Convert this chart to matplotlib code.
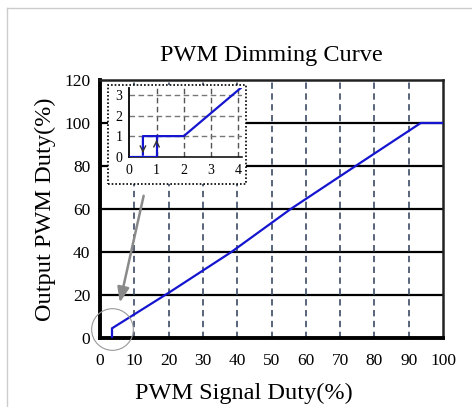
import matplotlib
matplotlib.use("Agg")
import matplotlib.pyplot as plt
from matplotlib.lines import Line2D
from matplotlib.patches import Rectangle

# main curve
duty_in = [3.5, 3.5, 20, 38.3, 55.6, 74.5, 93.5, 100]
duty_out = [0, 4.5, 21, 40, 60, 80, 100, 100]

x_ticks = [0, 10, 20, 30, 40, 50, 60, 70, 80, 90, 100]
y_ticks = [0, 20, 40, 60, 80, 100, 120]

# zoomed low end with hysteresis
zoom_up_x = [0, 1, 1]
zoom_up_y = [0, 0, 1]
zoom_dn_x = [0.5, 0.5, 2, 4.15]
zoom_dn_y = [0.1, 1, 1, 3.4]
zoom_xticks = [0, 1, 2, 3, 4]
zoom_yticks = [0, 1, 2, 3]

plt.rcParams["font.family"] = ["Liberation Serif", "DejaVu Serif"]

W, H = 472, 407
fig = plt.figure(figsize=(W / 100, H / 100), dpi=100)
fig.patch.set_facecolor("white")

ax = fig.add_axes([100 / W, 1 - 338 / H, 343 / W, 258 / H])
ax.set_xlim(0, 100)
ax.set_ylim(0, 120)
ax.set_xticks(x_ticks)
ax.set_yticks(y_ticks)
ax.tick_params(length=0, labelsize=12.5, pad=7)
ax.tick_params(axis="x", pad=11)
for v in y_ticks[1:-1]:
    ax.axhline(v, color="black", lw=1.6, zorder=1)
for v in x_ticks[1:-1]:
    ax.axvline(v, color="#4a5870", lw=1.3, ls=(0, (3.5, 2.5)), zorder=1)
for side in ["left", "bottom"]:
    ax.spines[side].set_linewidth(2.8)
for side in ["top", "right"]:
    ax.spines[side].set_linewidth(1.8)
    ax.spines[side].set_color("#222222")

ax.plot(duty_in, duty_out, color="#1515d0", lw=1.6, zorder=3, solid_joinstyle="miter")

ax.set_title("PWM Dimming Curve", fontsize=17.5, pad=14)
ax.set_xlabel("PWM Signal Duty(%)", fontsize=17.5)
ax.xaxis.set_label_coords(0.42, -0.175)
ax.set_ylabel("Output PWM Duty(%)", fontsize=17.5, labelpad=6)

# circle around the low end and arrow from the inset
ax.plot([3.6], [4.4], marker="o", ms=30, mfc="none", mec="#999999", mew=0.8,
        clip_on=False, zorder=4)
ax.annotate("", xy=(5.6, 15.2), xytext=(12.9, 67.4),
            arrowprops=dict(arrowstyle="-|>,head_length=0.9,head_width=0.35",
                            color="#8a8a8a", lw=1.8), zorder=4)

# white dotted box behind the inset
box = Rectangle((108 / W, 1 - 184 / H), 138 / W, 99 / H, transform=fig.transFigure,
                facecolor="white", edgecolor="black", lw=1.2, ls=(0, (1, 1.2)), zorder=5)
fig.patches.append(box)

ins = fig.add_axes([129.3 / W, 1 - 156.7 / H, 113 / W, 69 / H], zorder=6)
ins.set_xlim(0, 4.15)
ins.set_ylim(0, 3.35)
ins.set_xticks(zoom_xticks)
ins.set_yticks(zoom_yticks)
ins.tick_params(length=0, labelsize=10, pad=5)
ins.patch.set_alpha(0)
for v in zoom_xticks[1:]:
    ins.axvline(v, color="#555555", lw=1.0, ls=(0, (4, 2.5)), zorder=1)
for v in zoom_yticks[1:]:
    ins.axhline(v, color="#777777", lw=1.0, ls=(0, (4, 2.5)), zorder=1)
ins.spines["top"].set_visible(False)
ins.spines["right"].set_visible(False)
ins.spines["left"].set_linewidth(1.3)
ins.spines["bottom"].set_linewidth(1.1)
ins.plot(zoom_up_x, zoom_up_y, color="#1515d0", lw=1.6, zorder=3)
ins.plot(zoom_dn_x, zoom_dn_y, color="#1515d0", lw=1.6, zorder=3)
ins.annotate("", xy=(0.5, 0.05), xytext=(0.5, 0.4),
             arrowprops=dict(arrowstyle="->,head_length=0.4,head_width=0.2",
                             color="#333333", lw=1.0), zorder=4)
ins.annotate("", xy=(1, 0.95), xytext=(1, 0.6),
             arrowprops=dict(arrowstyle="->,head_length=0.4,head_width=0.2",
                             color="#333333", lw=1.0), zorder=4)

# faint page border top and left
fig.lines.append(Line2D([7 / W, 1], [1 - 8 / H, 1 - 8 / H], transform=fig.transFigure,
                        color="#cccccc", lw=1))
fig.lines.append(Line2D([7 / W, 7 / W], [0, 1 - 8 / H], transform=fig.transFigure,
                        color="#cccccc", lw=1))

fig.savefig("out.png", dpi=100)
